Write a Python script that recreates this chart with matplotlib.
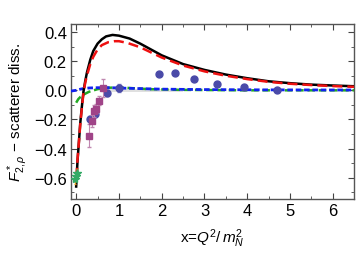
import numpy as np
import matplotlib
matplotlib.use('Agg')
import matplotlib.pyplot as plt
from matplotlib.ticker import MultipleLocator

plt.rcParams['font.family'] = ['Liberation Sans', 'DejaVu Sans']
plt.rcParams['mathtext.fontset'] = 'custom'
plt.rcParams['mathtext.rm'] = 'Liberation Sans'
plt.rcParams['mathtext.it'] = 'Liberation Sans:italic'

# ---- curves ----
black_x = [0.0, 0.03, 0.06, 0.094, 0.13, 0.17, 0.21, 0.25, 0.33, 0.4, 0.5, 0.6, 0.7,
           0.85, 1.0, 1.25, 1.5, 1.75, 2.0, 2.5, 3.0, 3.5, 4.0, 4.5, 5.0, 5.5, 6.0, 6.5]
black_y = [-0.66, -0.49, -0.37, -0.23, -0.12, -0.01, 0.06, 0.12, 0.21, 0.27, 0.32, 0.35, 0.37,
           0.38, 0.375, 0.355, 0.32, 0.28, 0.24, 0.18, 0.14, 0.108, 0.083, 0.062, 0.049, 0.039, 0.033, 0.028]

red_x = [0.01, 0.03, 0.06, 0.094, 0.13, 0.17, 0.21, 0.25, 0.33, 0.4, 0.5, 0.6, 0.75,
         0.9, 1.0, 1.2, 1.5, 2.0, 2.5, 3.0, 3.5, 4.0, 4.5, 5.0, 5.5, 6.0, 6.5]
red_y = [-0.60, -0.48, -0.37, -0.24, -0.13, -0.02, 0.05, 0.10, 0.18, 0.23, 0.28, 0.31, 0.33,
         0.337, 0.337, 0.325, 0.295, 0.225, 0.17, 0.13, 0.10, 0.077, 0.058, 0.045, 0.036, 0.029, 0.024]

green_x = [0.0, 0.05, 0.1, 0.2, 0.3, 0.5, 0.7, 1.0, 1.3, 1.7, 2.5, 4.0, 6.5]
green_y = [-0.085, -0.06, -0.045, -0.025, -0.01, 0.008, 0.017, 0.02, 0.015, 0.008, 0.003, 0.0, 0.0]

blue_x = [-0.12, 0.0, 0.1, 0.2, 0.3, 0.5, 0.8, 1.2, 2.0, 3.0, 4.5, 6.5]
blue_y = [-0.005, 0.0, 0.008, 0.013, 0.016, 0.018, 0.018, 0.014, 0.008, 0.005, 0.003, 0.002]

# ---- data points ----
circ_x = [0.33, 0.45, 0.72, 1.0, 1.93, 2.32, 2.75, 3.29, 3.93, 4.7]
circ_y = [-0.195, -0.16, -0.02, 0.016, 0.115, 0.12, 0.08, 0.046, 0.023, 0.0]
circ_err = [0.02, 0.02, 0.02, 0.03, 0.01, 0.01, 0.01, 0.01, 0.01, 0.01]

sq_x = [0.30, 0.37, 0.42, 0.47, 0.54, 0.62]
sq_y = [-0.31, -0.21, -0.14, -0.125, -0.07, 0.015]
sq_err = [0.08, 0.04, 0.04, 0.03, 0.03, 0.06]

star_x = [-0.02, 0.0, 0.02]
star_y = [-0.61, -0.59, -0.57]
star_err = [0.03, 0.03, 0.03]

fig = plt.figure(figsize=(3.57, 2.55), dpi=100)
ax = fig.add_axes([0.199, 0.216, 0.793, 0.686])

ax.fill_between([0.6, 2.5], [-0.012, -0.012], [0.008, 0.008], color='#cccccc', alpha=0.6, lw=0)

ax.plot(black_x, black_y, color='black', lw=1.8, zorder=5)
ax.plot(red_x, red_y, color='#ee1111', lw=1.8, ls=(0, (4, 2)), zorder=6)
ax.plot(green_x, green_y, color='#22aa22', lw=1.8, ls=(0, (3, 1.5)), zorder=4)
ax.plot(blue_x, blue_y, color='#1122ee', lw=2.0, ls=(0, (2, 1)), zorder=4)

ax.errorbar(circ_x, circ_y, yerr=circ_err, fmt='o', color='#4a4aa8', ms=5,
            ecolor='#8080c8', elinewidth=0.8, capsize=1.5, zorder=7)
ax.errorbar(sq_x, sq_y, yerr=sq_err, fmt='s', color='#a04488', ms=4.5,
            ecolor='#c088b0', elinewidth=0.8, capsize=1.5, zorder=8)
ax.errorbar(star_x, star_y, yerr=star_err, fmt='*', color='#33aa66', ms=6,
            ecolor='#dd9922', elinewidth=0.8, capsize=1, zorder=8)

ax.set_xlim(-0.12, 6.5)
ax.set_ylim(-0.745, 0.455)
ax.xaxis.set_major_locator(MultipleLocator(1))
ax.xaxis.set_minor_locator(MultipleLocator(0.5))
ax.yaxis.set_major_locator(MultipleLocator(0.2))
ax.yaxis.set_minor_locator(MultipleLocator(0.1))
ax.tick_params(which='both', direction='in', top=True, right=True, labelsize=12, color='#444444')
ax.tick_params(which='major', length=4, pad=3)
ax.tick_params(which='minor', length=2.5)
for s in ax.spines.values():
    s.set_color('#555555')
    s.set_linewidth(1.0)

ax.set_xlabel('x=$Q^2/\\,m_N^2$', fontsize=11, labelpad=6)
ax.set_ylabel('$F^*_{2,\\rho}$ − scatterer diss.', fontsize=11, labelpad=3)

fig.savefig('out.png', dpi=100)
